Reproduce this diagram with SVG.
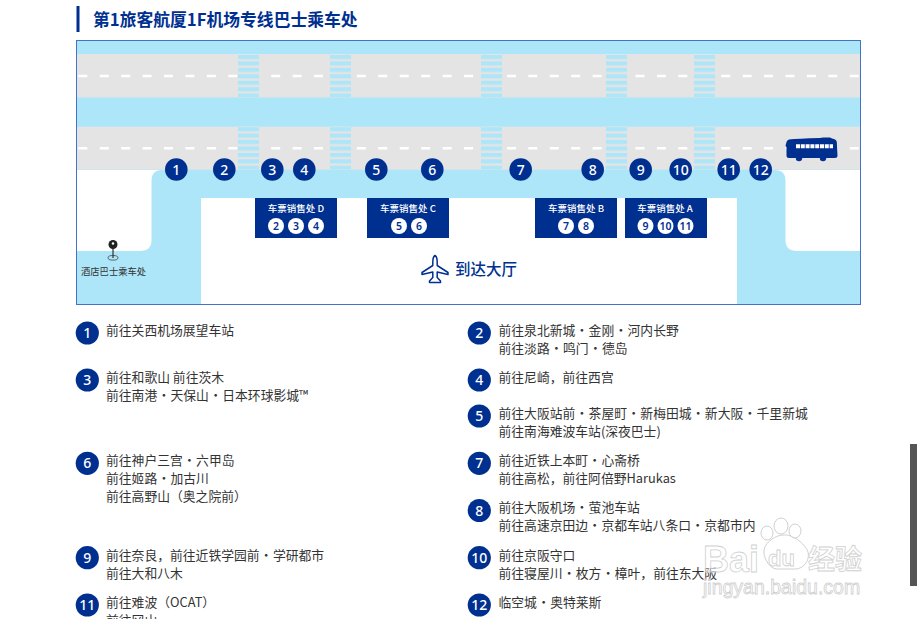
<svg xmlns="http://www.w3.org/2000/svg" width="917" height="619" viewBox="0 0 917 619">
<style>
text{font-family:"Noto Sans CJK SC","Noto Sans",sans-serif}
.n{fill:#00308f}
.num{font-family:"Noto Sans",sans-serif;fill:#fff;text-anchor:middle;font-size:14px;font-weight:500}
.booth{fill:#00308f}
.bt{fill:#fff;font-size:9.5px;text-anchor:middle;font-weight:500}
.sn{font-family:"Noto Sans",sans-serif;fill:#00308f;text-anchor:middle;font-size:10.5px;font-weight:600}
.li{fill:#333;font-size:12.8px;word-spacing:-2.6px}
.road{fill:#e4e4e4}
.dash{stroke:#fff;stroke-width:2.4;stroke-dasharray:9 12.43;fill:none}
.cross{fill:url(#stripes)}
.wm{fill:#fff;fill-opacity:.45;stroke:#d0d0d0;stroke-width:.8;font-family:"Liberation Sans",sans-serif}
</style>
<defs>
<pattern id="stripes" patternUnits="userSpaceOnUse" x="0" y="55" width="21" height="6.43">
<rect width="21" height="6.43" fill="#e4e4e4"/>
<rect width="21" height="4" fill="#ade6f8"/>
</pattern>
</defs>
<rect width="917" height="619" fill="#fff"/>
<rect x="76.5" y="6" width="3" height="26" fill="#00308f"/>
<text x="93" y="26" font-size="16.8" font-weight="700" fill="#00308f">第1旅客航厦1F机场专线巴士乘车处</text>
<g id="map">
<rect x="76.5" y="40.5" width="784" height="264" fill="#ade6f8"/>
<rect class="road" x="77" y="54" width="783" height="43.5"/>
<rect class="road" x="77" y="126.7" width="783" height="43"/>
<path class="dash" d="M78.3 76H860M78.3 148.2H860"/>
<rect class="cross" x="238" y="54.5" width="21" height="43"/><rect class="cross" x="330" y="54.5" width="21" height="43"/><rect class="cross" x="481" y="54.5" width="21" height="43"/><rect class="cross" x="606" y="54.5" width="21" height="43"/><rect class="cross" x="694" y="54.5" width="21" height="43"/>
<g transform="translate(0,72.2)"><rect class="cross" x="238" y="54.5" width="21" height="43"/><rect class="cross" x="330" y="54.5" width="21" height="43"/><rect class="cross" x="481" y="54.5" width="21" height="43"/><rect class="cross" x="606" y="54.5" width="21" height="43"/><rect class="cross" x="694" y="54.5" width="21" height="43"/></g>
<path fill="#fff" d="M77 170H162Q151.500 170 151.500 181V240Q151.500 251 140 251H77Z"/>
<path fill="#fff" d="M860 170H775Q785.500 170 785.500 181V240Q785.500 251 797 251H860Z"/>
<rect x="201" y="198" width="536" height="106" fill="#fff"/>
<rect x="76.500" y="40.500" width="784" height="264" fill="none" stroke="#4472c4" stroke-width="1"/>
</g>
<g id="booth-d"><rect class="booth" x="255" y="198" width="82" height="40"/><text class="bt" x="296" y="212">车票销售处 D</text>
<circle cx="276" cy="226" r="8" fill="#fff"/><text class="sn" x="276" y="230">2</text><circle cx="296" cy="226" r="8" fill="#fff"/><text class="sn" x="296" y="230">3</text><circle cx="316" cy="226" r="8" fill="#fff"/><text class="sn" x="316" y="230">4</text></g>
<g id="booth-c"><rect class="booth" x="367" y="198" width="82" height="40"/><text class="bt" x="408" y="212">车票销售处 C</text>
<circle cx="399" cy="226" r="8" fill="#fff"/><text class="sn" x="399" y="230">5</text><circle cx="419" cy="226" r="8" fill="#fff"/><text class="sn" x="419" y="230">6</text></g>
<g id="booth-b"><rect class="booth" x="535" y="198" width="82" height="40"/><text class="bt" x="576" y="212">车票销售处 B</text>
<circle cx="566" cy="226" r="8" fill="#fff"/><text class="sn" x="566" y="230">7</text><circle cx="586" cy="226" r="8" fill="#fff"/><text class="sn" x="586" y="230">8</text></g>
<g id="booth-a"><rect class="booth" x="625" y="198" width="82" height="40"/><text class="bt" x="665" y="212">车票销售处 A</text>
<circle cx="645.500" cy="226" r="8" fill="#fff"/><text class="sn" x="645.500" y="230">9</text><circle cx="665.500" cy="226" r="8" fill="#fff"/><text class="sn" x="665.500" y="230">10</text><circle cx="685.500" cy="226" r="8" fill="#fff"/><text class="sn" x="685.500" y="230">11</text></g>
<g id="stops">
<g id="stop-1"><circle class="n" cx="176.300" cy="169.500" r="11.300"/><text class="num" x="176.300" y="174.500">1</text></g>
<g id="stop-2"><circle class="n" cx="224.300" cy="169.500" r="11.300"/><text class="num" x="224.300" y="174.500">2</text></g>
<g id="stop-3"><circle class="n" cx="272.300" cy="169.500" r="11.300"/><text class="num" x="272.300" y="174.500">3</text></g>
<g id="stop-4"><circle class="n" cx="304.300" cy="169.500" r="11.300"/><text class="num" x="304.300" y="174.500">4</text></g>
<g id="stop-5"><circle class="n" cx="376.300" cy="169.500" r="11.300"/><text class="num" x="376.300" y="174.500">5</text></g>
<g id="stop-6"><circle class="n" cx="432.300" cy="169.500" r="11.300"/><text class="num" x="432.300" y="174.500">6</text></g>
<g id="stop-7"><circle class="n" cx="520.700" cy="169.500" r="11.300"/><text class="num" x="520.700" y="174.500">7</text></g>
<g id="stop-8"><circle class="n" cx="592.700" cy="169.500" r="11.300"/><text class="num" x="592.700" y="174.500">8</text></g>
<g id="stop-9"><circle class="n" cx="640.700" cy="169.500" r="11.300"/><text class="num" x="640.700" y="174.500">9</text></g>
<g id="stop-10"><circle class="n" cx="680.700" cy="169.500" r="11.300"/><text class="num" x="680.700" y="174.500">10</text></g>
<g id="stop-11"><circle class="n" cx="728.700" cy="169.500" r="11.300"/><text class="num" x="728.700" y="174.500">11</text></g>
<g id="stop-12"><circle class="n" cx="760.700" cy="169.500" r="11.300"/><text class="num" x="760.700" y="174.500">12</text></g>
</g>
<g id="bus">
<path class="n" d="M789 139.500Q797 138.500 820 138L823 137.500H830L832 138.500Q836.500 139 836.800 142L837.500 156Q837.500 157.800 835 158H789Q786.500 158 786.500 155.500V147L785.500 146L786.500 142Q787 140 789 139.500Z"/>
<circle class="n" cx="799" cy="158" r="3.200"/><circle class="n" cx="823" cy="158" r="3.200"/>
<path d="M796 146.200H833" stroke="#fff" stroke-width="4" stroke-dasharray="4 .8" fill="none"/>
</g>
<g id="hotel-stop">
<ellipse cx="113" cy="257.800" rx="5" ry="2.300" fill="none" stroke="#444" stroke-width=".8"/>
<rect x="112.400" y="248" width="1.200" height="10" fill="#333"/>
<circle cx="113" cy="244.500" r="4.500" fill="#222"/><circle cx="113" cy="243.500" r="1.200" fill="#fff"/>
<text x="81" y="274.500" font-size="9.300" fill="#333">酒店巴士乘车处</text>
</g>
<g id="arrivals">
<path d="M435 255.500C433.300 256.500 432.800 259 432.800 262V265.500L422 272.500V274.500L432.800 272V277.500L429.500 281V282.500H440.500V281L437.200 277.500V272L448 274.500V272.500L437.200 265.500V262C437.200 259 436.700 256.500 435 255.500Z" fill="#fff" stroke="#00308f" stroke-width="1.500" stroke-linejoin="round"/>
<text x="455" y="274.500" font-size="15.500" font-weight="500" fill="#00308f">到达大厅</text>
</g>
<g id="legend">
<g><circle class="n" cx="87.300" cy="333" r="11.600"/><text class="num" x="87.300" y="338">1</text><text class="li" x="106" y="335">前往关西机场展望车站</text></g>
<g><circle class="n" cx="87.300" cy="380" r="11.600"/><text class="num" x="87.300" y="385">3</text><text class="li" style="word-spacing:0" x="106" y="382">前往和歌山 前往茨木</text><text class="li" x="106" y="400">前往南港 · 天保山 · 日本环球影城™</text></g>
<g><circle class="n" cx="87.300" cy="463.300" r="11.600"/><text class="num" x="87.300" y="468.300">6</text><text class="li" x="106" y="465">前往神户三宫 · 六甲岛</text><text class="li" x="106" y="483">前往姬路 · 加古川</text><text class="li" x="106" y="500.500">前往高野山（奥之院前）</text></g>
<g><circle class="n" cx="87.300" cy="557.700" r="11.600"/><text class="num" x="87.300" y="562.700">9</text><text class="li" x="106" y="560">前往奈良，前往近铁学园前 · 学研都市</text><text class="li" x="106" y="578">前往大和八木</text></g>
<g><circle class="n" cx="87.300" cy="605" r="11.600"/><text class="num" x="87.300" y="610">11</text><text class="li" x="106" y="607">前往难波（OCAT）</text><text class="li" x="106" y="624.500">前往冈山</text></g>
<g><circle class="n" cx="479.300" cy="333" r="11.600"/><text class="num" x="479.300" y="338">2</text><text class="li" x="498.500" y="335">前往泉北新城 · 金刚 · 河内长野</text><text class="li" x="498.500" y="353">前往淡路 · 鸣门 · 德岛</text></g>
<g><circle class="n" cx="479.300" cy="380" r="11.600"/><text class="num" x="479.300" y="385">4</text><text class="li" x="498.500" y="382">前往尼崎，前往西宫</text></g>
<g><circle class="n" cx="479.300" cy="416" r="11.600"/><text class="num" x="479.300" y="421">5</text><text class="li" x="498.500" y="418">前往大阪站前 · 茶屋町 · 新梅田城 · 新大阪 · 千里新城</text><text class="li" x="498.500" y="436">前往南海难波车站(深夜巴士)</text></g>
<g><circle class="n" cx="479.300" cy="463.300" r="11.600"/><text class="num" x="479.300" y="468.300">7</text><text class="li" x="498.500" y="465">前往近铁上本町 · 心斋桥</text><text class="li" x="498.500" y="483">前往高松，前往阿倍野Harukas</text></g>
<g><circle class="n" cx="479.300" cy="510.500" r="11.600"/><text class="num" x="479.300" y="515.500">8</text><text class="li" x="498.500" y="512">前往大阪机场 · 萤池车站</text><text class="li" x="498.500" y="530">前往高速京田边 · 京都车站八条口 · 京都市内</text></g>
<g><circle class="n" cx="479.300" cy="557.700" r="11.600"/><text class="num" x="479.300" y="562.700">10</text><text class="li" x="498.500" y="560">前往京阪守口</text><text class="li" x="498.500" y="578">前往寝屋川 · 枚方 · 樟叶，前往东大阪</text></g>
<g><circle class="n" cx="479.300" cy="605" r="11.600"/><text class="num" x="479.300" y="610">12</text><text class="li" x="498.500" y="607">临空城 · 奥特莱斯</text></g>
</g>
<rect x="910" y="444" width="7" height="142" fill="#555"/>
<g id="watermark">
<path d="M766 560C760 548 768 540 778 536C790 532 800 540 806 548C812 556 806 568 796 569H776Q770 568 766 560Z" fill="#fff" fill-opacity=".45" stroke="#d0d0d0"/>
<ellipse cx="767" cy="533" rx="6" ry="7" fill="#fff" fill-opacity=".45" stroke="#d0d0d0"/>
<ellipse cx="781" cy="526" rx="7" ry="8" fill="#fff" fill-opacity=".45" stroke="#d0d0d0"/>
<ellipse cx="795" cy="531" rx="6" ry="7" fill="#fff" fill-opacity=".45" stroke="#d0d0d0"/>
<text class="wm" x="703" y="572" font-size="36" font-weight="700">Bai</text>
<text class="wm" x="768" y="566" font-size="22" font-weight="700">du</text>
<text class="wm" x="808" y="569" font-size="27" style="font-family:'Noto Sans CJK SC',sans-serif" font-weight="700">经验</text>
<text class="wm" x="703" y="594" font-size="19.500">jingyan.baidu.com</text>
</g>
</svg>
